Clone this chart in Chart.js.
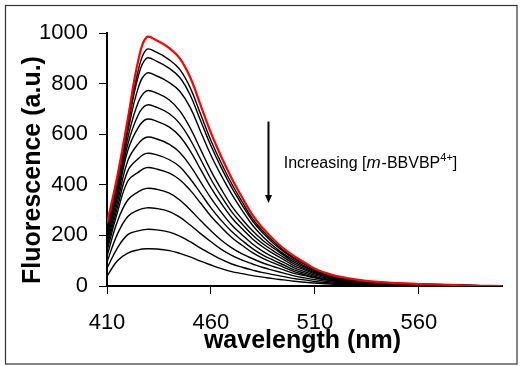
<!DOCTYPE html>
<html>
<head>
<meta charset="utf-8">
<title>Fluorescence quenching</title>
<script src="https://cdn.jsdelivr.net/npm/chart.js@4.4.0/dist/chart.umd.min.js"></script>
<style>
  html, body { margin: 0; padding: 0; background: #fff; }
  canvas { display: block; }
</style>
</head>
<body>
<canvas id="chart" width="526" height="366"></canvas>
<script>
'use strict';

// ── data ───────────────────────────────────────────────────────────
var wavelengths = [410, 415, 420, 425, 429, 434, 440, 445, 450, 455, 460, 465, 470, 475, 480, 485,
                   490, 495, 500, 505, 510, 515, 520, 530, 540, 550, 560, 570, 580, 590, 600];

// red trace = no quencher, then black traces with increasing [m-BBVBP4+]
var fl00 = [248, 435, 660, 890, 983, 970, 940, 900, 825, 715, 605, 510, 425, 350, 280, 228, 185, 148, 118, 93, 68, 52, 40, 25, 16, 11, 8, 6, 3, 1, 0];
var fl01 = [238, 420, 645, 851, 935, 923, 894, 856, 784, 680, 575, 485, 404, 333, 266, 217, 176, 141, 112, 89, 65, 50, 38, 23, 15, 10, 7, 6, 3, 1, 0];
var fl02 = [230, 410, 630, 828, 900, 888, 860, 824, 755, 654, 554, 467, 389, 320, 257, 209, 169, 136, 108, 86, 62, 48, 37, 23, 14, 10, 7, 5, 3, 1, 0];
var fl03 = [220, 398, 610, 782, 841, 830, 804, 770, 706, 611, 517, 436, 363, 299, 240, 195, 158, 127, 101, 80, 58, 45, 34, 21, 13, 9, 7, 5, 3, 1, 0];
var fl04 = [208, 380, 585, 725, 771, 762, 735, 692, 625, 540, 455, 382, 316, 264, 218, 180, 150, 122, 94, 75, 56, 43, 33, 21, 13, 9, 6, 5, 2, 1, 0];
var fl05 = [196, 365, 560, 676, 715, 706, 681, 642, 579, 501, 422, 354, 293, 245, 202, 167, 139, 113, 87, 69, 52, 40, 31, 19, 12, 9, 6, 4, 2, 1, 0];
var fl06 = [183, 350, 535, 626, 659, 651, 628, 592, 534, 461, 389, 326, 270, 226, 186, 154, 128, 104, 80, 64, 48, 37, 28, 18, 11, 8, 5, 4, 2, 1, 0];
var fl07 = [168, 330, 495, 562, 588, 581, 560, 528, 476, 412, 347, 291, 241, 202, 166, 137, 114, 93, 72, 57, 43, 33, 25, 16, 10, 7, 5, 4, 2, 1, 0];
var fl08 = [153, 310, 455, 503, 524, 518, 499, 471, 424, 367, 309, 259, 215, 180, 148, 122, 102, 83, 64, 51, 38, 29, 23, 14, 9, 6, 4, 3, 2, 1, 0];
var fl09 = [138, 290, 415, 449, 468, 462, 446, 420, 379, 328, 276, 232, 192, 161, 132, 109, 91, 74, 57, 45, 34, 26, 20, 13, 8, 6, 4, 3, 1, 0, 0];
var fl10 = [118, 255, 340, 372, 386, 382, 367, 340, 301, 259, 218, 181, 151, 127, 108, 91, 77, 64, 50, 41, 32, 24, 19, 12, 7, 5, 3, 2, 1, 0, 0];
var fl11 = [95, 205, 275, 300, 309, 306, 294, 272, 241, 207, 175, 145, 121, 102, 87, 73, 62, 51, 40, 32, 25, 19, 15, 9, 6, 4, 2, 2, 1, 0, 0];
var fl12 = [70, 150, 203, 218, 224, 222, 213, 197, 175, 150, 127, 105, 87, 74, 63, 53, 45, 37, 29, 24, 18, 14, 11, 7, 4, 3, 2, 1, 1, 0, 0];
var fl13 = [38, 100, 130, 143, 147, 146, 140, 129, 115, 98, 83, 69, 57, 49, 41, 35, 29, 24, 19, 15, 12, 9, 7, 4, 3, 2, 1, 1, 0, 0, 0];

var traces = [fl00, fl01, fl02, fl03, fl04, fl05, fl06, fl07, fl08, fl09, fl10, fl11, fl12, fl13];
var xTickValues = [410, 460, 510, 560];
var yTickValues = [0, 200, 400, 600, 800, 1000];

// arrow + label, in data units
var arrowNm = 487.5, arrowFrom = 650, arrowTo = 328;
var labelNm = 495, labelAt = 465;

var FONT = "'Liberation Sans', Arial, sans-serif";

// ── extra drawing: frame, axis titles, annotation ─────────────────
var extras = {
  id: 'extras',
  afterDraw: function (chart) {
    var ctx = chart.ctx, a = chart.chartArea, x = chart.scales.x, y = chart.scales.y;
    ctx.save();

    // outer frame
    ctx.strokeStyle = '#333';
    ctx.lineWidth = 1.2;
    ctx.strokeRect(5.5, 5.5, 511.5, 358.5);

    // axis titles
    ctx.fillStyle = '#000';
    ctx.font = 'bold 25px ' + FONT;
    ctx.textAlign = 'center';
    ctx.textBaseline = 'alphabetic';
    ctx.fillText('wavelength (nm)', (a.left + a.right) / 2 - 2, 348);
    ctx.save();
    ctx.translate(39.5, 170);
    ctx.rotate(-Math.PI / 2);
    ctx.fillText('Fluorescence (a.u.)', 0, 0);
    ctx.restore();

    // arrow
    var ax = Math.round(x.getPixelForValue(arrowNm)) + 0.5;
    var y0 = y.getPixelForValue(arrowFrom), y1 = y.getPixelForValue(arrowTo);
    ctx.strokeStyle = '#000';
    ctx.lineWidth = 2;
    ctx.beginPath();
    ctx.moveTo(ax, y0);
    ctx.lineTo(ax, y1 - 6);
    ctx.stroke();
    ctx.beginPath();
    ctx.moveTo(ax - 3.5, y1 - 8);
    ctx.lineTo(ax + 3.5, y1 - 8);
    ctx.lineTo(ax, y1);
    ctx.closePath();
    ctx.fill();

    // label: Increasing [m-BBVBP4+]
    var tx = x.getPixelForValue(labelNm), ty = y.getPixelForValue(labelAt);
    ctx.textAlign = 'left';
    var parts = [
      { t: 'Increasing [', f: '16px ' + FONT, dy: 0 },
      { t: 'm', f: 'italic 17px ' + FONT, dy: 0 },
      { t: '-BBVBP', f: '16px ' + FONT, dy: 0 },
      { t: '4+', f: '11px ' + FONT, dy: -7 },
      { t: ']', f: '16px ' + FONT, dy: 0 }
    ];
    parts.forEach(function (p) {
      ctx.font = p.f;
      ctx.fillText(p.t, tx, ty + p.dy);
      tx += ctx.measureText(p.t).width + (p.t === 'm' ? 1 : 0);
    });

    ctx.restore();
  }
};

var datasets = traces.map(function (vals, i) {
  return {
    data: vals.map(function (v, k) { return { x: wavelengths[k], y: v }; }),
    borderColor: i === 0 ? '#ff0000' : '#000000',
    borderWidth: i === 0 ? 2.2 : 1.4,
    pointRadius: 0,
    fill: false,
    tension: 0.4
  };
});

new Chart(document.getElementById('chart'), {
  type: 'line',
  data: { datasets: datasets },
  options: {
    responsive: false,
    animation: false,
    devicePixelRatio: 1,
    layout: { padding: { left: 0, right: 24, top: 33, bottom: 0 } },
    plugins: { legend: { display: false }, tooltip: { enabled: false } },
    scales: {
      x: {
        type: 'linear',
        min: 410,
        max: 600,
        afterBuildTicks: function (s) { s.ticks = xTickValues.map(function (v) { return { value: v }; }); },
        afterFit: function (s) { s.height = 80; },
        grid: { drawOnChartArea: false, drawTicks: true, tickLength: 8, color: '#000', lineWidth: 1 },
        border: { display: true, color: '#000', width: 2 },
        ticks: { color: '#000', padding: 16, maxRotation: 0, font: { family: FONT, size: 22 },
                 callback: function (v) { return String(v); } }
      },
      y: {
        type: 'linear',
        min: 0,
        max: 1000,
        afterBuildTicks: function (s) { s.ticks = yTickValues.map(function (v) { return { value: v }; }); },
        afterFit: function (s) { s.width = 107; },
        grid: { drawOnChartArea: false, drawTicks: true, tickLength: 8, color: '#000', lineWidth: 1 },
        border: { display: true, color: '#000', width: 2 },
        ticks: { color: '#000', padding: 11, font: { family: FONT, size: 22 },
                 callback: function (v) { return String(v); } }
      }
    }
  },
  plugins: [extras]
});
</script>
</body>
</html>
